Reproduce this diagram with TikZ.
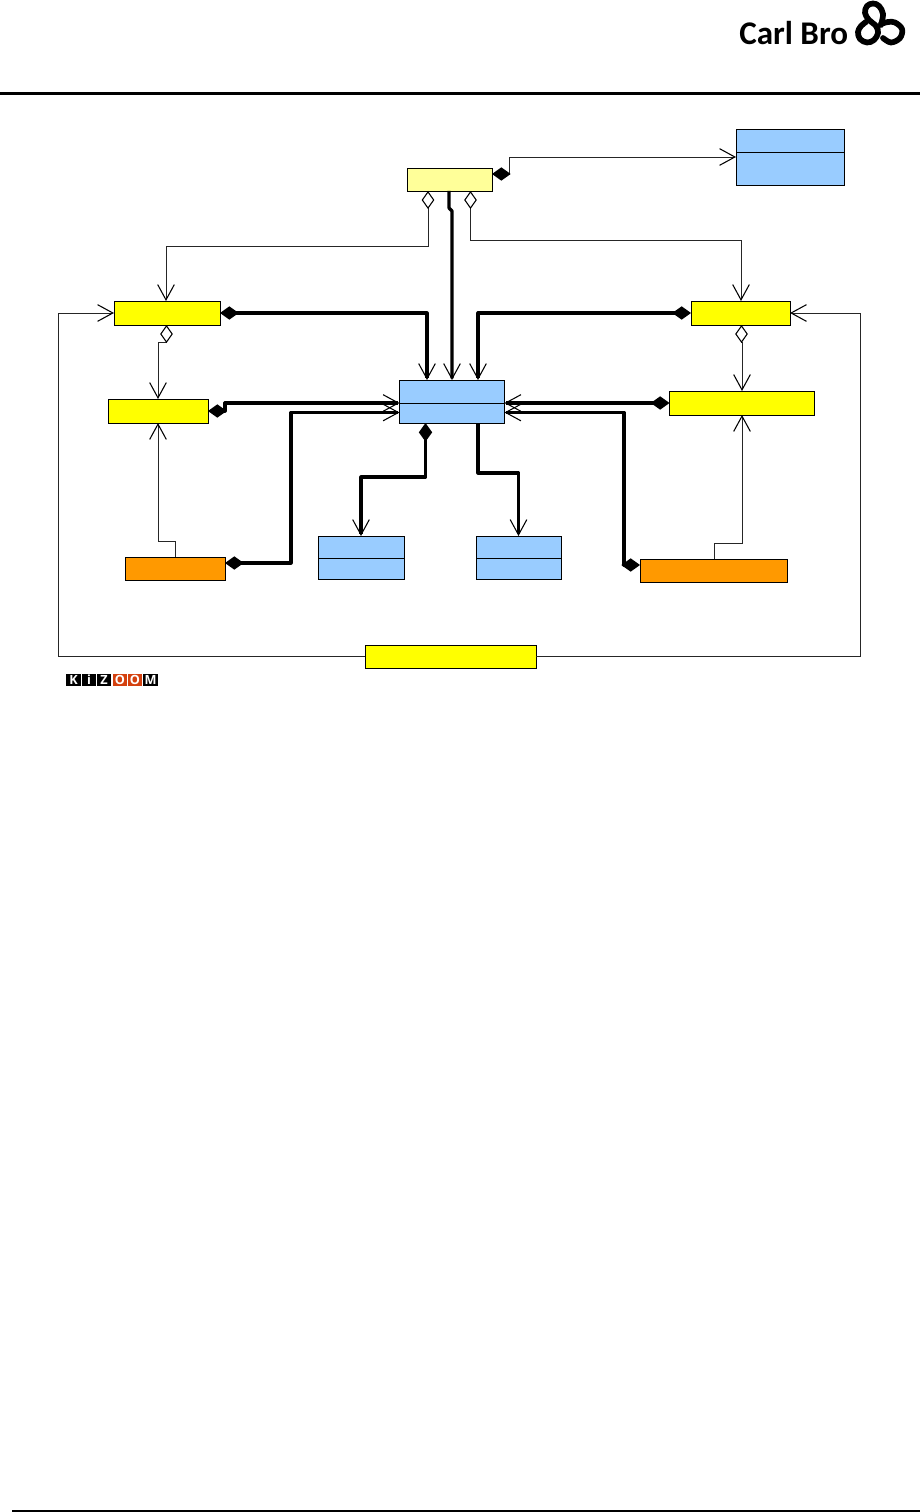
\documentclass[tikz,border=0pt]{standalone}
\usepackage{fontspec}
\setmainfont{Open Sans}
\newfontfamily\brandfont{Carlito}
\usetikzlibrary{arrows.meta,calc}
\definecolor{boxblue}{HTML}{99CCFF}
\definecolor{boxyellow}{HTML}{FFFF00}
\definecolor{boxpale}{HTML}{FFFF99}
\definecolor{boxorange}{HTML}{FF9900}
\definecolor{kizred}{HTML}{D4410F}
\tikzset{
  cls/.style={draw=black,line width=0.7pt,inner sep=0pt,outer sep=0pt},
  pale/.style={cls,fill=boxpale},
  yel/.style={cls,fill=boxyellow},
  org/.style={cls,fill=boxorange},
  blu/.style={cls,fill=boxblue},
  thin link/.style={line width=0.65pt,black!85,line join=miter},
  thick link/.style={line width=2.4pt,black,line join=round},
  open head/.tip={Straight Barb[length=11.5pt,width=12.5pt,line width=0.8pt,black]},
  solid dia/.tip={Diamond[length=14pt,width=10pt,black,fill=black,line width=0pt]},
  hollow dia/.tip={Diamond[open,length=13.5pt,width=9.5pt,black,fill=white,line width=0.8pt]},
  rule/.style={line width=2.2pt,black},
  swirl/.style={line width=4.3pt,black,line cap=round,line join=round},
  kz/.style={inner sep=0pt,outer sep=0pt,minimum width=10.8pt,minimum height=9.6pt,text=white,font=\fontsize{9.5}{9.5}\selectfont\bfseries},
}
\begin{document}
\begin{tikzpicture}[x=0.75pt,y=-0.75pt]
\useasboundingbox (0,0) rectangle (920,1512);
% page furniture
\coordinate (hl) at (0,93.5); \coordinate (hr) at (920,93.5);
\draw[rule] (hl) -- (hr);
\coordinate (fl) at (12,1511); \coordinate (fr) at (920,1511);
\draw[line width=1.6pt,black] (fl) -- (fr);
% logo
\node[inner sep=0pt,anchor=base west,font=\fontsize{24.8}{26}\selectfont\brandfont\bfseries] (brand) at (739,45) {Carl Bro};
\draw[swirl] plot[smooth,tension=0.6] coordinates {(883,38) (891,42.5) (900,38) (902,29) (895,22.5) (888,22) (881,24)};
\draw[swirl] plot[smooth,tension=0.6] coordinates {(881,25) (883,14) (879,6) (873,3.5) (867,6) (865,13) (869,20) (876,26) (878,33) (874,40) (867,42.5) (860,39) (858,32) (861,26) (866,22)};
% kizoom logo
\node[kz,fill=black] (k1) at (73.5,680) {K};
\node[kz,fill=black] (k2) at (89,680) {i};
\node[kz,fill=black] (k3) at (104,680) {Z};
\node[kz,fill=kizred] (k4) at (120,680) {O};
\node[kz,fill=kizred] (k5) at (135,680) {O};
\node[kz,fill=black] (k6) at (150.5,680) {M};
% classes
\node[pale,minimum width=63.75pt,minimum height=17.25pt] (top) at (449.5,179.5) {};
\node[blu,minimum width=81pt,minimum height=42pt] (tr) at (790,157) {};
\draw[line width=0.7pt] (tr.west |- 0,152) -- (tr.east |- 0,152);
\node[yel,minimum width=79.5pt,minimum height=18pt] (ya) at (167,313) {};
\node[yel,minimum width=74.25pt,minimum height=18pt] (yb) at (740.5,313) {};
\node[yel,minimum width=75pt,minimum height=18pt] (yc) at (158,411) {};
\node[yel,minimum width=108.75pt,minimum height=18pt] (yd) at (742,403) {};
\node[blu,minimum width=78.75pt,minimum height=32.25pt] (ctr) at (452,401.5) {};
\draw[line width=0.7pt] (ctr.west |- 0,403) -- (ctr.east |- 0,403);
\node[org,minimum width=75pt,minimum height=17.25pt] (ol) at (175,568.5) {};
\node[org,minimum width=110.25pt,minimum height=17.25pt] (or) at (713.5,570.5) {};
\node[blu,minimum width=64.5pt,minimum height=32.25pt] (bl) at (361,557.5) {};
\draw[line width=0.7pt] (bl.west |- 0,558) -- (bl.east |- 0,558);
\node[blu,minimum width=63.75pt,minimum height=32.25pt] (br) at (518.5,557.5) {};
\draw[line width=0.7pt] (br.west |- 0,558) -- (br.east |- 0,558);
\node[yel,minimum width=128.25pt,minimum height=17.25pt] (yw) at (450.5,656.5) {};
% thin links
\draw[thin link,{solid dia}-{open head}] (top.east |- 0,174) -- (509,174) -- (509,157) -- (tr.west |- 0,157);
\draw[thin link,{hollow dia}-{open head}] (428,0 |- top.south) -- (428,246) -- (166,246) -- (166,0 |- ya.north);
\draw[thin link,{hollow dia}-{open head}] (470.5,0 |- top.south) -- (470.5,240) -- (741,240) -- (741,0 |- yb.north);
\draw[thin link,{hollow dia}-{open head}] (166.5,0 |- ya.south) -- (166.5,342) -- (158,342) -- (yc.north);
\draw[thin link,{hollow dia}-{open head}] (741.5,0 |- yb.south) -- (741.5,342) -- (742,342) -- (yd.north);
\draw[thin link,-{open head}] (ol.north) -- (175,541) -- (158,541) -- (yc.south);
\draw[thin link,-{open head}] (714,0 |- or.north) -- (714,543) -- (742,543) -- (yd.south);
\draw[thin link,-{open head}] (yw.west) -- (58,656.5) -- (58,313) -- (ya.west);
\draw[thin link,-{open head}] (yw.east) -- (860,656.5) -- (860,313) -- (yb.east);
% thick links
\draw[thick link,-{open head}] (449,0 |- top.south) -- (449,208) -- (452,211) -- (ctr.north);
\draw[thick link,{solid dia}-{open head}] (ya.east) -- (427,313) -- (427,0 |- ctr.north);
\draw[thick link,{solid dia}-{open head}] (yb.west) -- (478,313) -- (478,0 |- ctr.north);
\draw[thick link,{solid dia}-{open head}] (yc.east) -- (225,411) -- (225,403) -- (ctr.west |- 0,403);
\draw[thick link,{solid dia}-{open head}] (ol.east |- 0,563) -- (291,563) -- (291,412.5) -- (ctr.west |- 0,412.5);
\draw[thick link,{solid dia}-{open head}] (yd.west) -- (ctr.east |- 0,403);
\draw[thick link,{solid dia}-{open head}] (or.west |- 0,565) -- (624,565) -- (624,412.5) -- (ctr.east |- 0,412.5);
\draw[thick link,{solid dia}-{open head}] (425.5,0 |- ctr.south) -- (425.5,477) -- (361,477) -- (bl.north);
\draw[thick link,-{open head}] (478,0 |- ctr.south) -- (478,473) -- (518.5,473) -- (br.north);
\end{tikzpicture}
\end{document}
